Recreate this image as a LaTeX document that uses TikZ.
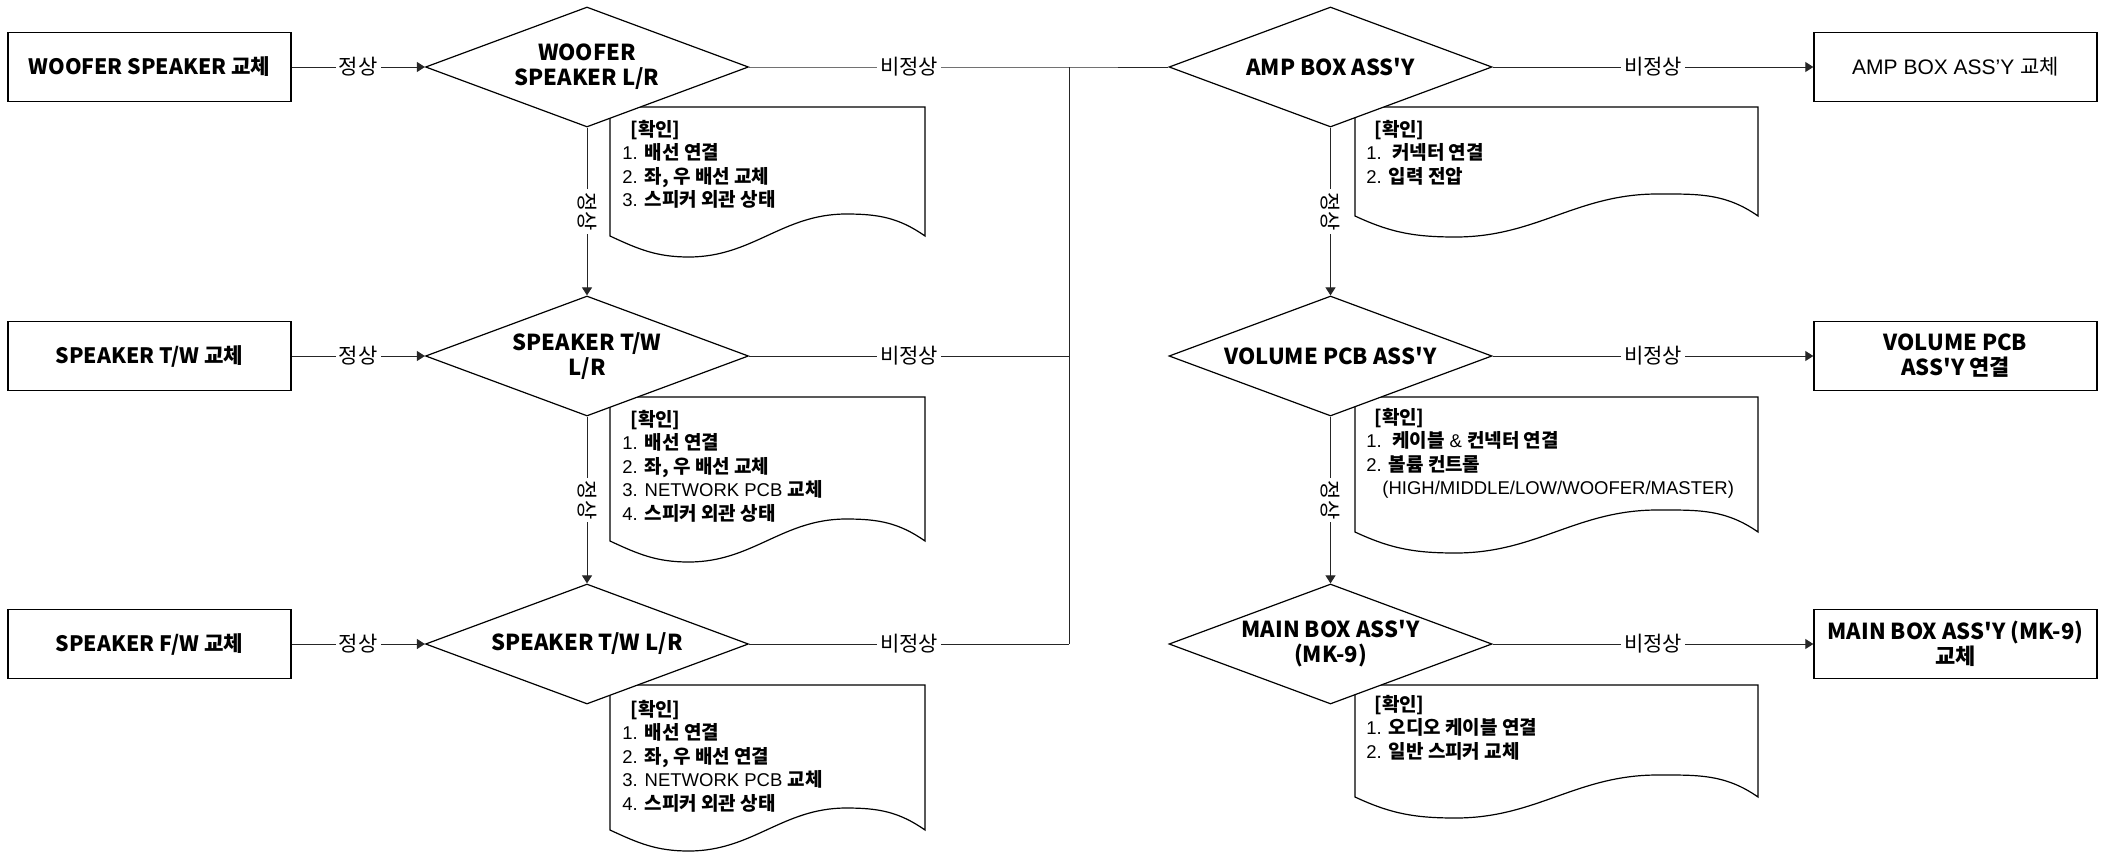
\documentclass[tikz,border=0pt]{standalone}
\usepackage{fontspec}
\setmainfont{Liberation Sans}
\newfontfamily\kr{Noto Sans CJK KR}
\usetikzlibrary{shapes.geometric,arrows.meta}
\newcommand\kb[1]{{\kr\bfseries\fontsize{9.5}{11.75}\selectfont #1}}
\newcommand\hdfont{\kr\bfseries\fontsize{11}{12.5}\selectfont}
\newcommand\bxfont{\kr\bfseries\fontsize{10.6}{12.5}\selectfont}
\newcommand\labfont{\kr\fontsize{10.5}{11}\selectfont}
\newcommand\rgfont{\fontsize{10.5}{12}\selectfont}
\newcommand\docpath[4]{%
  \pgfmathsetmacro\wxa{#1+0.75*(#3-#1)}%
  \pgfmathsetmacro\wxb{#1+0.25*(#3-#1)}%
  \pgfmathsetmacro\wya{#4-22}%
  \pgfmathsetmacro\wyb{#4+21}%
  \draw[docline] (#1,#4) -- (#1,#2) -- (#3,#2) -- (#3,#4)
    to[out=145,in=0] (\wxa,\wya)
    to[out=180,in=0] (\wxb,\wyb)
    to[out=180,in=-25] (#1,#4) -- cycle;}
\begin{document}
\begin{tikzpicture}[x=0.5pt,y=-0.5pt,
  box/.style={draw,line width=0.7pt,minimum width=141.5pt,minimum height=34.5pt,inner sep=0pt,align=center,fill=white},
  dia/.style={draw,line width=0.6pt,diamond,aspect=2.69,minimum width=161.5pt,minimum height=60pt,inner sep=0pt,align=center,fill=white,font=\hdfont},
  conn/.style={line width=0.5pt,draw=black!85},
  arr/.style={conn,-{Triangle[length=4pt,width=5pt]}},
  lab/.style={fill=white,inner sep=1.5pt,font=\labfont},
  docline/.style={line width=0.6pt,fill=white},
  doctext/.style={anchor=base west,align=left,inner sep=0pt,font=\fontsize{9.25}{11.75}\selectfont}]
\useasboundingbox (0,0) rectangle (2107,851);

% document shapes
\docpath{610}{107}{925}{236}
\docpath{610}{397}{925}{541}
\docpath{610}{685}{925}{830}
\docpath{1355}{107}{1758}{216}
\docpath{1355}{397}{1758}{532}
\docpath{1355}{685}{1758}{797}

% (anchor = baseline of the last line)
\node[doctext] (t1) at (622,206.5) {\hspace*{4pt}\kb{[확인]}\\1. \kb{배선 연결}\\2. \kb{좌, 우 배선 교체}\\3. \kb{스피커 외관 상태}};
\node[doctext] (t2) at (622,520) {\hspace*{4pt}\kb{[확인]}\\1. \kb{배선 연결}\\2. \kb{좌, 우 배선 교체}\\3. NETWORK PCB \kb{교체}\\4. \kb{스피커 외관 상태}};
\node[doctext] (t3) at (622,810) {\hspace*{4pt}\kb{[확인]}\\1. \kb{배선 연결}\\2. \kb{좌, 우 배선 연결}\\3. NETWORK PCB \kb{교체}\\4. \kb{스피커 외관 상태}};
\node[doctext] (t4) at (1366,183) {\hspace*{4pt}\kb{[확인]}\\1.~~\kb{커넥터 연결}\\2. \kb{입력 전압}};
\node[doctext] (t5) at (1366,494.5) {\hspace*{4pt}\kb{[확인]}\\1.~~\kb{케이블} \& \kb{컨넥터 연결}\\2. \kb{볼륨 컨트롤}\\\hspace*{8pt}(HIGH/MIDDLE/LOW/WOOFER/MASTER)};
\node[doctext] (t6) at (1366,758) {\hspace*{4pt}\kb{[확인]}\\1. \kb{오디오 케이블 연결}\\2. \kb{일반 스피커 교체}};

% boxes
\node[box,font=\bxfont] (b1) at (149.5,67) {WOOFER SPEAKER 교체};
\node[box,font=\bxfont] (b2) at (149.5,356) {SPEAKER T/W 교체};
\node[box,font=\bxfont] (b3) at (149.5,644) {SPEAKER F/W 교체};
\node[box,font=\rgfont] (r1) at (1955.5,67) {AMP BOX ASS'Y {\kr 교체}};
\node[box,font=\hdfont] (r2) at (1955.5,356) {VOLUME PCB\\ASS'Y 연결};
\node[box,font=\hdfont] (r3) at (1955.5,644) {MAIN BOX ASS'Y (MK-9)\\교체};

% diamonds
\node[dia] (d1) at (587,67) {WOOFER\\SPEAKER L/R};
\node[dia] (d2) at (587,356) {SPEAKER T/W\\L/R};
\node[dia] (d3) at (587,644) {SPEAKER T/W L/R};
\node[dia] (a1) at (1330.5,67) {AMP BOX ASS'Y};
\node[dia] (a2) at (1330.5,356) {VOLUME PCB ASS'Y};
\node[dia] (a3) at (1330.5,644) {MAIN BOX ASS'Y\\(MK-9)};

\coordinate (j1) at (1069,67);
\coordinate (j2) at (1069,356);
\coordinate (j3) at (1069,644);

% connectors
\draw[arr] (b1) -- node[lab]{정상} (d1);
\draw[arr] (b2) -- node[lab]{정상} (d2);
\draw[arr] (b3) -- node[lab]{정상} (d3);
\draw[arr] (d1) -- node[lab,rotate=-90]{정상} (d2);
\draw[arr] (d2) -- node[lab,rotate=-90]{정상} (d3);
\draw[conn] (d1) -- node[lab]{비정상} (j1) -- (a1);
\draw[conn] (d2) -- node[lab]{비정상} (j2);
\draw[conn] (d3) -- node[lab]{비정상} (j3);
\draw[conn] (j1) -- (j3);
\draw[arr] (a1) -- node[lab,rotate=-90]{정상} (a2);
\draw[arr] (a2) -- node[lab,rotate=-90]{정상} (a3);
\draw[arr] (a1) -- node[lab]{비정상} (r1);
\draw[arr] (a2) -- node[lab]{비정상} (r2);
\draw[arr] (a3) -- node[lab]{비정상} (r3);
\end{tikzpicture}
\end{document}
